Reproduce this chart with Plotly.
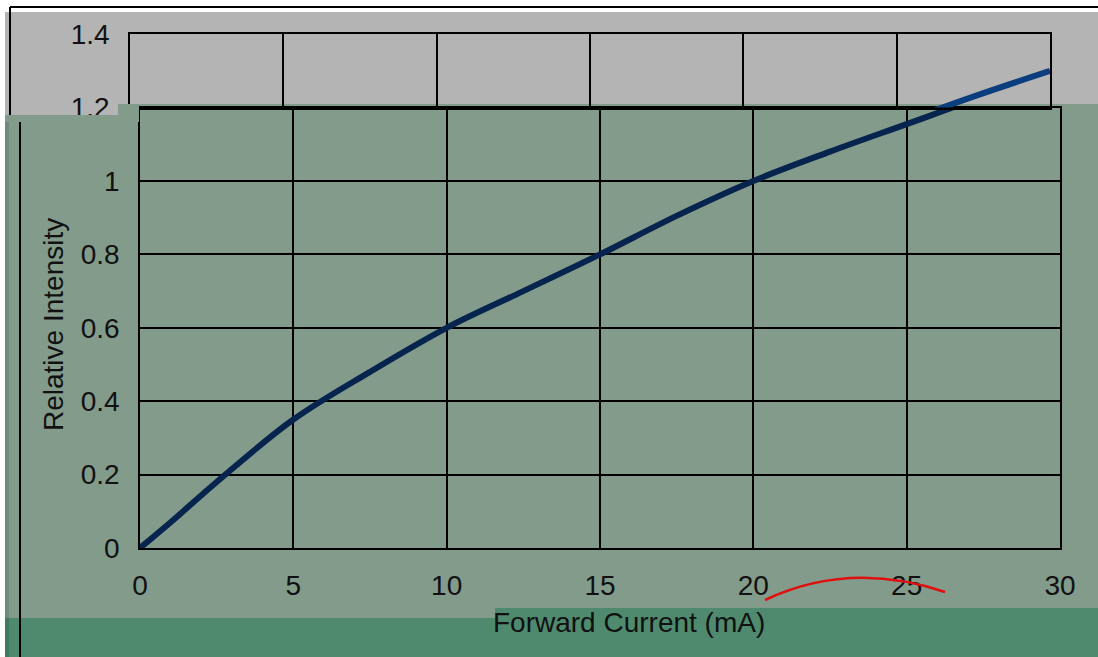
import plotly.graph_objects as go

# ---- data ----
current_ma = [0, 1, 2.5, 5, 7.5, 10, 12.5, 15, 17.5, 20, 22.5, 25, 27.5, 30]
rel_intensity = [0, 0.07, 0.18, 0.35, 0.48, 0.60, 0.70, 0.80, 0.905, 1.00, 1.08, 1.155, 1.23, 1.30]
x_ticks = [0, 5, 10, 15, 20, 25, 30]
x_tick_text = ["0", "5", "10", "15", "20", "25", "30"]
y_ticks_main = [0, 0.2, 0.4, 0.6, 0.8, 1.0, 1.2]
y_tick_text_main = ["0", "0.2", "0.4", "0.6", "0.8", "1", ""]
y_ticks_top = [1.2, 1.4]
y_tick_text_top = ["1.2", "1.4"]

W, H = 1098, 657
def px(x): return x / W
def py(y): return 1 - y / H

FONT = "Liberation Sans, Arial, sans-serif"
GRAY = "#b4b4b4"
GREEN = "#829b8b"
BAND = "#4f8a6f"

fig = go.Figure()
fig.add_trace(go.Scatter(x=current_ma, y=rel_intensity, mode="lines", line_shape="spline",
                         line=dict(color="#07244f", width=6), xaxis="x", yaxis="y",
                         showlegend=False, hoverinfo="skip"))
fig.add_trace(go.Scatter(x=current_ma, y=rel_intensity, mode="lines", line_shape="spline",
                         line=dict(color="#0b3e7f", width=6), xaxis="x2", yaxis="y2",
                         showlegend=False, hoverinfo="skip"))

grid = dict(showgrid=True, gridcolor="black", gridwidth=1.5, zeroline=False,
            showline=True, linecolor="black", linewidth=1.5, mirror=True, ticks="")
tickfont = dict(family=FONT, size=28, color="#111111")

y0, y1 = 548, 181  # pixel rows of 0 and 1
ppu = y0 - y1
y12 = y0 - 1.2 * ppu
y14 = y0 - 1.4 * ppu

fig.update_layout(
    width=W, height=H,
    margin=dict(l=0, r=0, t=0, b=0),
    paper_bgcolor="white", plot_bgcolor="rgba(0,0,0,0)",
    xaxis=dict(domain=[px(140), px(1060)], range=[0, 30], tickvals=x_ticks, ticktext=x_tick_text,
               tickfont=tickfont, ticklabelstandoff=12, anchor="y", automargin=False, **grid),
    yaxis=dict(domain=[py(y0), py(y12)], range=[0, 1.2], tickvals=y_ticks_main, ticktext=y_tick_text_main,
               tickfont=tickfont, ticklabelstandoff=13, anchor="x", automargin=False, **grid),
    xaxis2=dict(domain=[px(130), px(1050)], range=[0, 30], tickvals=x_ticks, showticklabels=False,
                anchor="y2", automargin=False, **grid),
    yaxis2=dict(domain=[py(y12), py(y14)], range=[1.2, 1.4], tickvals=y_ticks_top, ticktext=y_tick_text_top,
                tickfont=tickfont, ticklabelstandoff=13, anchor="x2", automargin=False, **grid),
)

def rect(x0, y0_, x1, y1_, color, layer="below"):
    return dict(type="rect", xref="paper", yref="paper", x0=px(x0), x1=px(x1), y0=py(y1_), y1=py(y0_),
                fillcolor=color, line=dict(width=0), layer=layer)

def vline(x, ya, yb, color="black", w=2):
    return dict(type="line", xref="paper", yref="paper", x0=px(x), x1=px(x), y0=py(ya), y1=py(yb),
                line=dict(color=color, width=w), layer="below")

def hline(y, xa, xb, color="black", w=2):
    return dict(type="line", xref="paper", yref="paper", x0=px(xa), x1=px(xb), y0=py(y), y1=py(y),
                line=dict(color=color, width=w), layer="below")

shapes = [
    rect(5, 12, W, 115, GRAY),
    rect(5, 115, 118, H, GREEN),
    rect(118, 104, W, H, GREEN),
    rect(5, 618, 495, H, BAND),
    rect(495, 608, W, H, BAND),
    rect(5, 115, 9, H, "#6f8c7b"),
    rect(5, 618, 9, H, "#3f7a5f"),
    hline(7, 10, W),
    vline(10, 7, 115),
    vline(20, 115, H),
    # green cover that clips the lower half of the top "1.2" label
    rect(5, 115, 118, 122, GREEN, layer="above"),
    rect(118, 104, 139, 122, GREEN, layer="above"),
    # red arc artifact
    dict(type="path", xref="paper", yref="paper",
         path=f"M {px(765)},{py(600)} Q {px(850)},{py(560)} {px(945)},{py(592)}",
         line=dict(color="#e01010", width=2.5), layer="above"),
]
fig.update_layout(shapes=shapes)

fig.add_annotation(text="Relative Intensity", xref="paper", yref="paper", x=px(53), y=py(325),
                   textangle=-90, showarrow=False, xanchor="center", yanchor="middle",
                   font=dict(family=FONT, size=28, color="#111111"))
fig.add_annotation(text="Forward Current (mA)", xref="paper", yref="paper", x=px(629), y=py(622),
                   showarrow=False, xanchor="center", yanchor="middle",
                   font=dict(family=FONT, size=28, color="#111111"))

fig.write_html("out.html", config={"displayModeBar": False},
               post_script="document.body.style.margin='0';")
